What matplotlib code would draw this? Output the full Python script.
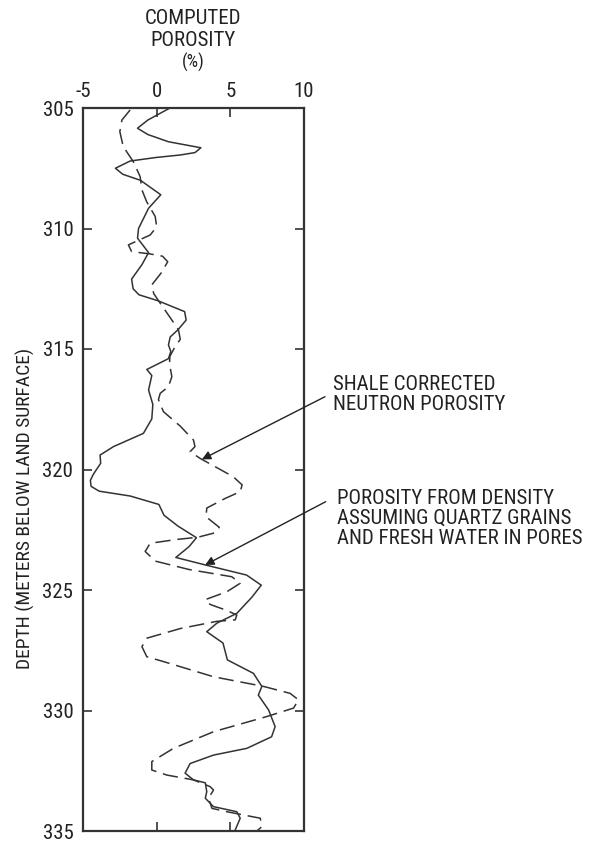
import matplotlib
matplotlib.use('Agg')
import matplotlib.pyplot as plt

plt.rcParams['font.family'] = ['Roboto Condensed', 'Liberation Sans Narrow',
                               'Liberation Sans', 'DejaVu Sans']
plt.rcParams['axes.unicode_minus'] = False

# porosity from density log (solid)
density_depth = [305.0, 305.5, 305.84, 306.1, 306.4, 306.65, 306.85, 306.95, 307.05, 307.2,
                 307.5, 307.75, 308.0, 308.6, 309.16, 310.0, 310.4, 311.0, 311.5, 312.1,
                 312.5, 312.75, 313.0, 313.45, 313.8, 314.2, 314.5, 314.83, 315.1, 315.4,
                 315.85, 316.1, 316.7, 317.3, 317.9, 318.5, 319.05, 319.4, 319.74, 320.2,
                 320.45, 320.7, 320.9, 321.1, 321.45, 321.9, 322.35, 322.83, 323.2, 323.65,
                 323.96, 324.38, 324.8, 325.3, 325.97, 326.37, 326.73, 327.2, 327.9, 328.46,
                 329.0, 329.36, 329.98, 330.67, 331.09, 331.57, 331.85, 332.2, 332.6, 332.88,
                 333.0, 333.37, 333.64, 333.99, 334.2, 334.47, 334.96]
density_por = [0.9, -0.6, -1.3, -0.6, 0.8, 3.0, 2.6, 1.6, 0.0, -1.8,
               -2.8, -2.3, -1.1, 0.28, -0.55, -1.23, -1.3, -0.55, -1.0, -1.7,
               -1.6, -1.2, 0.1, 1.9, 2.0, 1.45, 0.92, 0.8, 0.96, 0.8,
               -0.67, -0.33, -0.55, -0.26, -0.33, -0.9, -2.93, -3.84, -3.8, -4.3,
               -4.5, -4.45, -3.9, -1.8, 0.15, 0.5, 1.45, 2.7, 2.2, 1.3,
               3.3, 6.1, 7.1, 6.46, 5.44, 4.1, 3.4, 4.5, 4.8, 6.57,
               7.14, 6.9, 7.6, 8.04, 7.8, 6.12, 3.86, 2.27, 1.93, 2.5,
               3.3, 3.4, 3.3, 3.86, 5.44, 5.67, 5.33]

# shale corrected neutron porosity (dashed)
neutron_depth = [305.08, 305.5, 305.98, 306.6, 307.23, 307.85, 308.4, 308.9, 309.5, 309.93,
                 310.27, 310.68, 310.96, 311.05, 311.15, 311.38, 311.85, 312.34, 312.7, 313.1,
                 313.7, 314.2, 314.6, 314.96, 315.3, 315.6, 316.15, 316.56, 316.84, 317.1,
                 317.6, 318.2, 318.78, 319.05, 319.26, 319.54, 320.3, 320.64, 320.92, 321.2,
                 321.6, 321.96, 322.4, 322.62, 322.81, 322.9, 323.06, 323.4, 323.8, 324.15,
                 324.45, 324.72, 325.07, 325.4, 325.6, 325.85, 326.04, 326.24, 326.3, 326.6,
                 327.0, 327.35, 327.77, 327.97, 328.6, 329.0, 329.29, 329.56, 329.9, 330.25,
                 330.88, 331.57, 332.12, 332.47, 332.68, 332.88, 333.16, 333.3, 333.64, 334.06,
                 334.2, 334.47, 334.82, 335.0]
neutron_por = [-1.8, -2.36, -2.5, -2.27, -1.58, -1.12, -1.0, -0.67, -0.1, 0.0,
               -0.44, -1.92, -1.7, -0.5, 0.4, 0.75, 0.3, -0.33, -0.2, 0.24,
               0.92, 1.48, 1.6, 1.2, 0.9, 0.87, 1.03, 0.8, 0.24, 0.12,
               0.46, 1.6, 2.5, 2.6, 2.27, 2.95, 5.2, 5.8, 5.67, 4.65,
               3.4, 3.35, 4.25, 4.0, 2.8, 1.4, -0.44, -0.78, -0.1, 2.2,
               5.1, 5.67, 4.77, 3.3, 3.63, 4.77, 5.44, 5.33, 4.08, 1.6,
               -0.67, -1.0, -0.67, 0.46, 3.86, 7.25, 9.06, 9.63, 9.29, 7.48,
               3.86, 1.14, -0.33, -0.33, 0.7, 2.5, 3.63, 3.86, 3.52, 3.75,
               4.77, 7.03, 7.14, 6.8]

x_ticks = [-5, 0, 5, 10]
y_ticks = [305, 310, 315, 320, 325, 330, 335]

ink = '#333333'
txt = '#222222'

fig = plt.figure(figsize=(6.03, 8.41), dpi=100)
ax = fig.add_axes([83 / 603, 1 - 831 / 841, 221 / 603, 723 / 841])

ax.plot(density_por, density_depth, color=ink, lw=1.1)
ax.plot(neutron_por, neutron_depth, color=ink, lw=1.1, dashes=(10, 4.5))

ax.set_xlim(-5, 10)
ax.set_ylim(335, 305)
ax.set_xticks(x_ticks)
ax.set_yticks(y_ticks)
ax.xaxis.tick_top()
ax.tick_params(axis='x', which='both', direction='in', top=True, bottom=True,
               labeltop=True, labelbottom=False, length=6.5, width=1.2,
               color=ink, labelsize=15, labelcolor=txt, pad=5)
ax.tick_params(axis='y', which='both', direction='in', left=True, right=True,
               labelleft=True, length=6.5, width=1.2,
               color=ink, labelsize=15, labelcolor=txt, pad=7)
for sp in ax.spines.values():
    sp.set_linewidth(1.6)
    sp.set_color(ink)

# heading above the x axis
cx = (83 + 304) / 2 / 603
fig.text(cx, 1 - 18 / 841, 'COMPUTED', ha='center', va='center', fontsize=15, color=txt)
fig.text(cx, 1 - 40 / 841, 'POROSITY', ha='center', va='center', fontsize=15, color=txt)
fig.text(cx, 1 - 62 / 841, '(%)', ha='center', va='center', fontsize=13, color=txt)

fig.text(25 / 603, 1 - 508 / 841, 'DEPTH (METERS BELOW LAND SURFACE)', rotation=90,
         ha='center', va='center', fontsize=14, color=txt)

# curve labels with arrows
arrow = dict(arrowstyle='-|>', color=txt, lw=1.0, mutation_scale=13,
             shrinkA=0, shrinkB=0)
ax.annotate('', xy=(3.07, 319.58), xytext=(325 / 603, 1 - 396.7 / 841),
            textcoords='figure fraction', arrowprops=arrow, annotation_clip=False)
ax.annotate('', xy=(3.29, 323.96), xytext=(325.7 / 603, 1 - 501.7 / 841),
            textcoords='figure fraction', arrowprops=arrow, annotation_clip=False)

fig.text(333 / 603, 1 - 375 / 841, 'SHALE CORRECTED\nNEUTRON POROSITY',
         ha='left', va='top', fontsize=15, linespacing=1.08, color=txt)
fig.text(337 / 603, 1 - 489 / 841,
         'POROSITY FROM DENSITY\nASSUMING QUARTZ GRAINS\nAND FRESH WATER IN PORES',
         ha='left', va='top', fontsize=15, linespacing=1.08, color=txt)

fig.savefig('out.png', dpi=100)
